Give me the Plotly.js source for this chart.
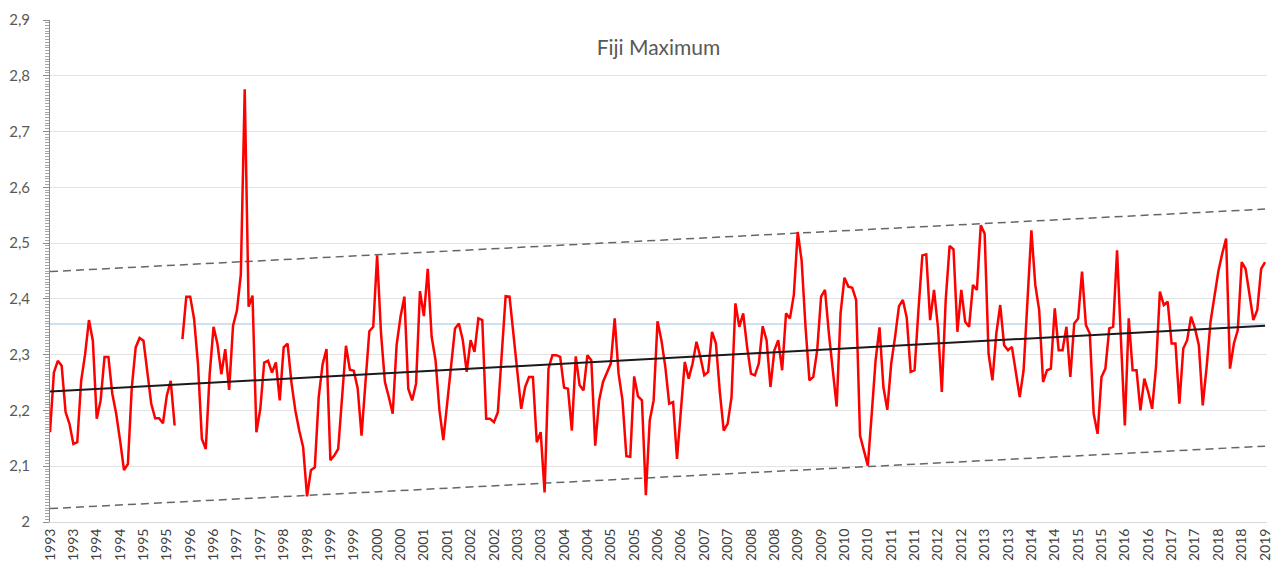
<!DOCTYPE html>
<html>
<head>
<meta charset="utf-8">
<script src="https://cdn.plot.ly/plotly-3.0.1.min.js"></script>
<style>
  html, body { margin: 0; padding: 0; background: #fff; }
  #chart { width: 1284px; height: 571px; }
</style>
</head>
<body>
<div id="chart"></div>
<script>
// --- Monthly maximum, Jan 1993 .. Jan 2019 (one month missing in 1995) ---
const fijiMax = [
  2.161, 2.268, 2.289, 2.28, 2.197, 2.176, 2.14, 2.143, 2.253, 2.30, 2.362, 2.325,
  2.185, 2.218, 2.296, 2.296, 2.23, 2.194, 2.146, 2.093, 2.104, 2.241, 2.313, 2.33,
  2.325, 2.271, 2.212, 2.186, 2.186, 2.177, 2.227, 2.253, 2.173, null, 2.328, 2.404,
  2.404, 2.364, 2.283, 2.149, 2.131, 2.265, 2.35, 2.319, 2.265, 2.31, 2.237, 2.352,
  2.379, 2.444, 2.776, 2.386, 2.406, 2.161, 2.203, 2.286, 2.289, 2.268, 2.286, 2.218,
  2.313, 2.32, 2.25, 2.2, 2.164, 2.134, 2.046, 2.093, 2.098, 2.224, 2.283, 2.31,
  2.111, 2.119, 2.131, 2.22, 2.316, 2.273, 2.271, 2.24, 2.155, 2.25, 2.342, 2.35,
  2.478, 2.338, 2.251, 2.224, 2.194, 2.317, 2.368, 2.404, 2.239, 2.218, 2.248, 2.414,
  2.369, 2.454, 2.332, 2.29, 2.2, 2.147, 2.212, 2.284, 2.347, 2.356, 2.326, 2.269,
  2.326, 2.305, 2.365, 2.362, 2.185, 2.185, 2.179, 2.197, 2.3, 2.405, 2.404, 2.341,
  2.266, 2.203, 2.242, 2.26, 2.26, 2.143, 2.161, 2.053, 2.275, 2.299, 2.299, 2.296,
  2.241, 2.239, 2.164, 2.297, 2.245, 2.236, 2.299, 2.29, 2.137, 2.218, 2.251, 2.266,
  2.284, 2.365, 2.266, 2.218, 2.118, 2.117, 2.261, 2.225, 2.218, 2.048, 2.182, 2.218,
  2.36, 2.326, 2.278, 2.212, 2.215, 2.113, 2.206, 2.287, 2.257, 2.284, 2.323, 2.296,
  2.263, 2.269, 2.341, 2.32, 2.233, 2.164, 2.176, 2.224, 2.392, 2.35, 2.374, 2.314,
  2.266, 2.263, 2.284, 2.351, 2.326, 2.242, 2.308, 2.326, 2.272, 2.374, 2.365, 2.407,
  2.52, 2.469, 2.35, 2.254, 2.26, 2.308, 2.404, 2.416, 2.338, 2.272, 2.207, 2.374,
  2.438, 2.422, 2.42, 2.398, 2.155, 2.128, 2.101, 2.194, 2.29, 2.349, 2.242, 2.201,
  2.284, 2.332, 2.387, 2.398, 2.366, 2.269, 2.272, 2.38, 2.478, 2.48, 2.362, 2.416,
  2.35, 2.233, 2.398, 2.495, 2.489, 2.341, 2.416, 2.359, 2.35, 2.425, 2.416, 2.532,
  2.517, 2.302, 2.254, 2.338, 2.389, 2.317, 2.308, 2.314, 2.272, 2.224, 2.272, 2.404,
  2.523, 2.425, 2.38, 2.251, 2.272, 2.275, 2.383, 2.308, 2.308, 2.35, 2.26, 2.356,
  2.365, 2.449, 2.353, 2.338, 2.194, 2.158, 2.26, 2.275, 2.347, 2.35, 2.487, 2.326,
  2.173, 2.365, 2.272, 2.272, 2.2, 2.257, 2.233, 2.203, 2.278, 2.413, 2.389, 2.395,
  2.32, 2.32, 2.212, 2.311, 2.326, 2.368, 2.347, 2.317, 2.209, 2.278, 2.359, 2.404,
  2.449, 2.481, 2.508, 2.275, 2.32, 2.344, 2.466, 2.454, 2.41, 2.362, 2.38, 2.454,
  2.466
];

// x labels every 6 months
const tickLabels = [
  '1993', '1993', '1994', '1994', '1995', '1995', '1996', '1996', '1997', '1997',
  '1998', '1998', '1999', '1999', '2000', '2000', '2001', '2001', '2002', '2002',
  '2003', '2003', '2004', '2004', '2005', '2005', '2006', '2006', '2007', '2007',
  '2008', '2008', '2009', '2009', '2010', '2010', '2011', '2011', '2012', '2012',
  '2013', '2013', '2014', '2014', '2015', '2015', '2016', '2016', '2017', '2017',
  '2018', '2018', '2019'
];

// straight lines: start and end values
const endMonths = [0, 312];
const trendLine = [2.234, 2.352];
const upperBand = [2.449, 2.561];
const lowerBand = [2.024, 2.136];
const meanLevel = [2.355, 2.355];

const months = fijiMax.map((_, i) => i);
const tickMonths = tickLabels.map((_, k) => k * 6);

const traces = [
  { x: endMonths, y: meanLevel, mode: 'lines', line: { color: '#9dc3e6', width: 1.2 } },
  { x: endMonths, y: upperBand, mode: 'lines', line: { color: '#666666', width: 1.5, dash: '8px,5px' } },
  { x: endMonths, y: lowerBand, mode: 'lines', line: { color: '#666666', width: 1.5, dash: '8px,5px' } },
  { x: months, y: fijiMax, mode: 'lines', connectgaps: false, line: { color: '#ff0000', width: 2.5 } },
  { x: endMonths, y: trendLine, mode: 'lines', line: { color: '#1a1a1a', width: 2 } }
];

const layout = {
  width: 1284,
  height: 571,
  margin: { l: 50, r: 17, t: 20, b: 49 },
  paper_bgcolor: '#ffffff',
  plot_bgcolor: '#ffffff',
  showlegend: false,
  separators: ', ',
  font: { family: 'Lato, "Open Sans", sans-serif', color: '#595959' },
  title: {
    text: 'Fiji Maximum',
    font: { size: 21, color: '#595959' },
    x: 0.5, xref: 'paper', xanchor: 'center',
    y: 1 - 48 / 571, yref: 'container', yanchor: 'middle'
  },
  xaxis: {
    range: [0, 312.5],
    tickvals: tickMonths,
    ticktext: tickLabels,
    tickangle: -90,
    tickfont: { size: 14, color: '#404040' },
    showgrid: false,
    zeroline: false,
    showline: true,
    linecolor: '#d9d9d9',
    linewidth: 1,
    ticks: ''
  },
  yaxis: {
    range: [2, 2.9],
    dtick: 0.1,
    tick0: 2,
    tickfont: { size: 15, color: '#595959' },
    gridcolor: '#e3e3e3',
    gridwidth: 1,
    zeroline: false,
    showline: true,
    linecolor: '#8c8c8c',
    linewidth: 1,
    ticks: 'outside',
    ticklen: 6,
    tickcolor: '#8c8c8c',
    ticklabelstandoff: 10,
    minor: { dtick: 0.005, ticks: 'outside', ticklen: 4, tickcolor: '#a6a6a6', showgrid: false }
  }
};

Plotly.newPlot('chart', traces, layout, { displayModeBar: false, staticPlot: true });
</script>
</body>
</html>
